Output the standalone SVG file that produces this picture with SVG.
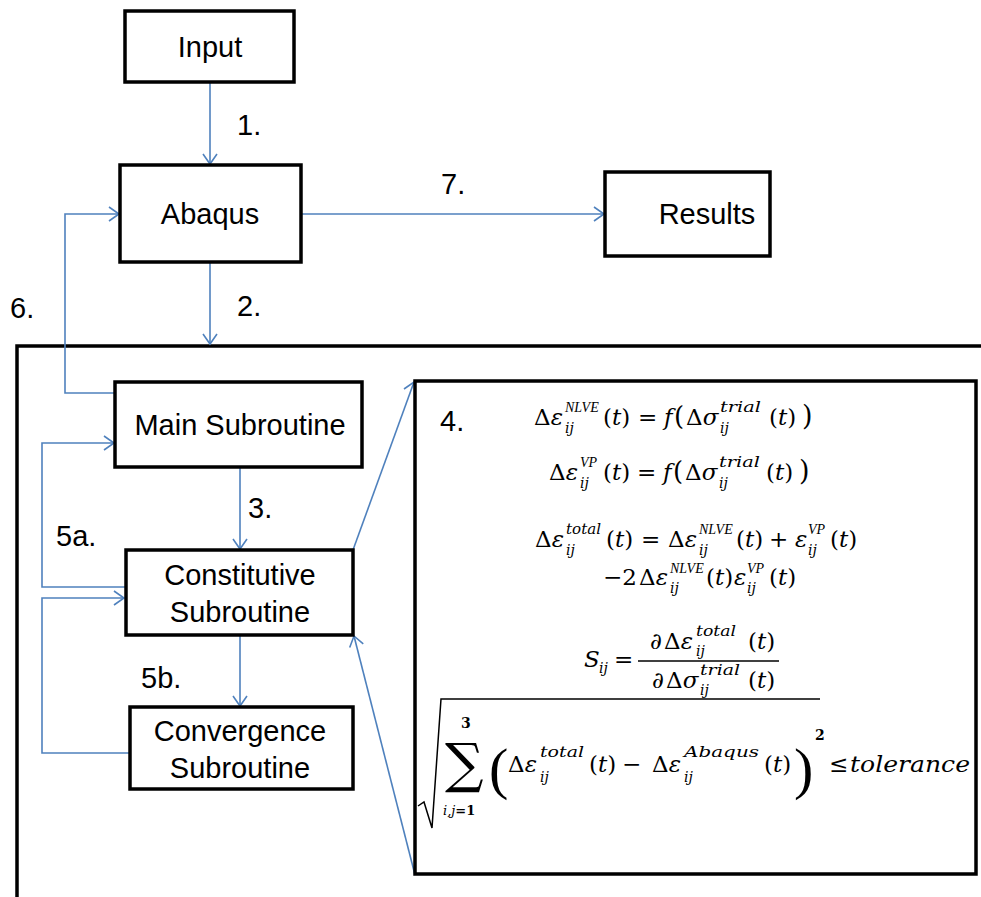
<svg xmlns="http://www.w3.org/2000/svg" width="981" height="897" viewBox="0 0 981 897">
<defs>
<marker id="ah" markerUnits="userSpaceOnUse" markerWidth="14" markerHeight="16" refX="11" refY="7" orient="auto" viewBox="0 0 14 14">
<path d="M1,0 L11,7 L1,14" fill="none" stroke="#4F81BD" stroke-width="1.6"/>
</marker>
</defs>
<style>
.box{fill:#fff;stroke:#000;stroke-width:3.5}
.lbl{font-family:"Liberation Sans",Arial,sans-serif;font-size:29px;fill:#000}
.c{text-anchor:middle}
.con{fill:none;stroke:#4F81BD;stroke-width:1.6}
.m{font-family:"DejaVu Serif","Liberation Serif",serif;font-size:23px;fill:#000}
.i{font-style:italic}
.s{font-family:"DejaVu Serif","Liberation Serif",serif;font-size:14px;font-style:italic;fill:#000}
.n{font-family:"Liberation Serif",serif;font-size:14px;font-style:italic;fill:#000}
.big{font-family:"Liberation Serif",serif;font-size:58px;fill:#000}
</style>
<rect width="981" height="897" fill="#fff"/>
<path d="M17,897 V346 H981" fill="none" stroke="#000" stroke-width="3.5"/>

<g id="connectors">
<path class="con" d="M210,82 V164" marker-end="url(#ah)"/>
<path class="con" d="M210,262 V344" marker-end="url(#ah)"/>
<path class="con" d="M301,214 H604" marker-end="url(#ah)"/>
<path class="con" d="M115,393 H65 V214 H119" marker-end="url(#ah)"/>
<path class="con" d="M240,467 V549" marker-end="url(#ah)"/>
<path class="con" d="M125,587 H42 V443 H114" marker-end="url(#ah)"/>
<path class="con" d="M240,635 V706" marker-end="url(#ah)"/>
<path class="con" d="M129,753 H42 V598 H124" marker-end="url(#ah)"/>
<path class="con" d="M353,550 L414,382" marker-end="url(#ah)"/>
<path class="con" d="M415,875 L354,636" marker-end="url(#ah)"/>
<text class="lbl" x="237" y="135">1.</text>
<text class="lbl" x="237" y="316">2.</text>
<text class="lbl" x="441" y="194">7.</text>
<text class="lbl" x="10" y="318">6.</text>
<text class="lbl" x="248" y="518">3.</text>
<text class="lbl" x="56" y="546">5a.</text>
<text class="lbl" x="141" y="688">5b.</text>
</g>

<g id="input"><rect class="box" x="125" y="11" width="169" height="71"/><text class="lbl c" x="210" y="57">Input</text></g>
<g id="abaqus"><rect class="box" x="120" y="165" width="181" height="97"/><text class="lbl c" x="210" y="224">Abaqus</text></g>
<g id="results"><rect class="box" x="605" y="172" width="165" height="84"/><text class="lbl c" x="707" y="224">Results</text></g>
<g id="main"><rect class="box" x="115" y="382" width="247" height="85"/><text class="lbl c" x="240" y="435">Main Subroutine</text></g>
<g id="constitutive"><rect class="box" x="126" y="550" width="227" height="85"/><text class="lbl c" x="240" y="585">Constitutive</text><text class="lbl c" x="240" y="622">Subroutine</text></g>
<g id="convergence"><rect class="box" x="130" y="707" width="223" height="82"/><text class="lbl c" x="240" y="741">Convergence</text><text class="lbl c" x="240" y="778">Subroutine</text></g>

<g id="equations">
<rect class="box" x="415" y="381" width="561" height="493"/>
<text class="lbl" x="440" y="431">4.</text>

<!-- eq1 baseline 425 -->
<text class="m" y="425"><tspan x="534">Δ</tspan><tspan class="i">ε</tspan></text>
<text class="n" x="565" y="412">NLVE</text><text class="s" x="565" y="433">ij</text>
<text class="m" y="425"><tspan x="603">(</tspan><tspan class="i">t</tspan>)<tspan x="638">=</tspan><tspan x="664" class="i">f</tspan><tspan x="674" font-size="26">(</tspan><tspan x="686">Δ</tspan><tspan class="i">σ</tspan></text>
<text class="s" x="720" y="412" textLength="41" lengthAdjust="spacingAndGlyphs">trial</text><text class="s" x="720" y="433">ij</text>
<text class="m" y="425"><tspan x="769">(</tspan><tspan class="i">t</tspan>)<tspan x="802" font-size="27">)</tspan></text>

<!-- eq2 baseline 480 -->
<text class="m" y="480"><tspan x="549">Δ</tspan><tspan class="i">ε</tspan></text>
<text class="n" x="580" y="467">VP</text><text class="s" x="580" y="488">ij</text>
<text class="m" y="480"><tspan x="603">(</tspan><tspan class="i">t</tspan>)<tspan x="637">=</tspan><tspan x="663" class="i">f</tspan><tspan x="673" font-size="26">(</tspan><tspan x="685">Δ</tspan><tspan class="i">σ</tspan></text>
<text class="s" x="719" y="467" textLength="41" lengthAdjust="spacingAndGlyphs">trial</text><text class="s" x="719" y="488">ij</text>
<text class="m" y="480"><tspan x="766">(</tspan><tspan class="i">t</tspan>)<tspan x="799" font-size="27">)</tspan></text>

<!-- eq3 baseline 547 / 585 -->
<text class="m" y="547"><tspan x="535">Δ</tspan><tspan class="i">ε</tspan></text>
<text class="s" x="566" y="534" textLength="35" lengthAdjust="spacingAndGlyphs">total</text><text class="s" x="566" y="555">ij</text>
<text class="m" y="547"><tspan x="606">(</tspan><tspan class="i">t</tspan>)<tspan x="641">=</tspan><tspan x="668">Δ</tspan><tspan class="i">ε</tspan></text>
<text class="n" x="699" y="534">NLVE</text><text class="s" x="699" y="555">ij</text>
<text class="m" y="547"><tspan x="736">(</tspan><tspan class="i">t</tspan>)<tspan x="769">+</tspan><tspan x="795" class="i">ε</tspan></text>
<text class="n" x="808" y="534">VP</text><text class="s" x="808" y="555">ij</text>
<text class="m" y="547"><tspan x="830">(</tspan><tspan class="i">t</tspan>)</text>

<text class="m" y="585"><tspan x="603">−2</tspan><tspan x="639">Δ</tspan><tspan class="i">ε</tspan></text>
<text class="n" x="670" y="573">NLVE</text><text class="s" x="670" y="593">ij</text>
<text class="m" y="585"><tspan x="706">(</tspan><tspan class="i">t</tspan>)<tspan x="734" class="i">ε</tspan></text>
<text class="n" x="747" y="573">VP</text><text class="s" x="747" y="593">ij</text>
<text class="m" y="585"><tspan x="769">(</tspan><tspan class="i">t</tspan>)</text>

<!-- eq4 -->
<text class="m i" x="584" y="667">S</text><text class="s" x="599" y="673">ij</text>
<text class="m" x="614" y="667">=</text>
<line x1="638" y1="661" x2="779" y2="661" stroke="#000" stroke-width="1.6"/>
<text class="m" y="649"><tspan x="650">∂</tspan><tspan x="664">Δ</tspan><tspan class="i">ε</tspan></text>
<text class="s" x="696" y="636" textLength="40" lengthAdjust="spacingAndGlyphs">total</text><text class="s" x="696" y="656">ij</text>
<text class="m" y="649"><tspan x="748">(</tspan><tspan class="i">t</tspan>)</text>
<text class="m" y="688"><tspan x="652">∂</tspan><tspan x="666">Δ</tspan><tspan class="i">σ</tspan></text>
<text class="s" x="700" y="675" textLength="40" lengthAdjust="spacingAndGlyphs">trial</text><text class="s" x="700" y="695">ij</text>
<text class="m" y="688"><tspan x="748">(</tspan><tspan class="i">t</tspan>)</text>

<!-- eq5 -->
<path d="M418,806 L424,802 L432,828 L441,699 H820" fill="none" stroke="#000" stroke-width="1.5"/>
<text font-family="DejaVu Serif,serif" font-size="54" x="445" y="782">∑</text>
<text font-family="DejaVu Serif,serif" font-size="14" font-weight="bold" x="461" y="728">3</text>
<text font-family="DejaVu Serif,serif" font-size="13" x="443" y="815"><tspan font-style="italic">i,j</tspan><tspan font-weight="bold">=1</tspan></text>
<text class="big" x="489" y="788">(</text>
<text class="m" y="772"><tspan x="508">Δ</tspan><tspan class="i">ε</tspan></text>
<text class="s" x="540" y="757" textLength="44" lengthAdjust="spacingAndGlyphs">total</text><text class="s" x="540" y="782">ij</text>
<text class="m" y="772"><tspan x="589">(</tspan><tspan class="i">t</tspan>)<tspan x="622">−</tspan><tspan x="652">Δ</tspan><tspan class="i">ε</tspan></text>
<text class="s" x="684" y="757" textLength="75" lengthAdjust="spacingAndGlyphs">Abaqus</text><text class="s" x="684" y="782">ij</text>
<text class="m" y="772"><tspan x="764">(</tspan><tspan class="i">t</tspan>)</text>
<text class="big" x="794" y="788">)</text>
<text font-family="DejaVu Serif,serif" font-size="14" font-weight="bold" x="815" y="740">2</text>
<text class="m" y="772"><tspan x="829">≤</tspan><tspan x="850" class="i" textLength="120" lengthAdjust="spacingAndGlyphs">tolerance</tspan></text>
</g>
</svg>
